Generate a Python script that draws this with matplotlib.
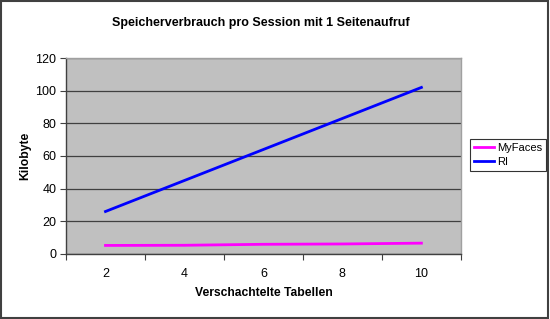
import matplotlib
matplotlib.use("Agg")
import matplotlib.pyplot as plt
from matplotlib.patches import Rectangle

categories = ["2", "4", "6", "8", "10"]
myfaces = [5.2, 5.3, 5.9, 6.1, 6.6]
ri = [26, 45, 64, 83, 102]
yticks = [0, 20, 40, 60, 80, 100, 120]

plt.rcParams['font.family'] = ['Liberation Sans', 'DejaVu Sans']

fig = plt.figure(figsize=(5.5, 3.19), dpi=100)
fig.patch.set_facecolor('white')
fig.patches.append(Rectangle((0.001, 0.002), 0.996, 0.995, transform=fig.transFigure,
                             fill=False, edgecolor='#404040', linewidth=1.5))

ax = fig.add_axes([0.12, 0.204, 0.718, 0.614])
ax.set_facecolor('#C0C0C0')
x = list(range(len(categories)))
ax.plot(x, myfaces, color='#FF00FF', linewidth=2, label='MyFaces')
ax.plot(x, ri, color='#0000FF', linewidth=2, label='RI')

ax.set_xlim(-0.5, len(categories) - 0.5)
ax.set_ylim(0, 120)
ax.set_yticks(yticks)
ax.set_yticklabels([str(v) for v in yticks], fontsize=9)
ax.yaxis.grid(True, color='#404040', linewidth=0.9)
ax.set_axisbelow(True)

ax.set_xticks([i - 0.5 for i in range(len(categories) + 1)])
ax.set_xticklabels([])
ax.set_xticks(x, minor=True)
ax.set_xticklabels(categories, minor=True, fontsize=9)
ax.tick_params(axis='x', which='minor', length=0, pad=10)
ax.tick_params(axis='x', which='major', length=4, direction='out', color='#404040')
ax.tick_params(axis='y', length=4, direction='out', color='#404040', pad=3)

for s in ['top', 'right']:
    ax.spines[s].set_color('#A0A0A0')
    ax.spines[s].set_linewidth(1)
for s in ['left', 'bottom']:
    ax.spines[s].set_color('#404040')
    ax.spines[s].set_linewidth(1)

ax.set_xlabel('Verschachtelte Tabellen', fontsize=8.7, fontweight='bold', labelpad=5)
ax.set_ylabel('Kilobyte', fontsize=8.7, fontweight='bold', labelpad=3)
fig.text(0.475, 0.928, 'Speicherverbrauch pro Session mit 1 Seitenaufruf',
         ha='center', va='center', fontsize=9, fontweight='bold')

leg = fig.legend(loc='upper left', bbox_to_anchor=(470/550, 1 - 139/319), fontsize=8,
                 frameon=True, fancybox=False, edgecolor='black', borderpad=0.35,
                 handlelength=1.8, handletextpad=0.25, labelspacing=0.35, borderaxespad=0)
leg.get_frame().set_linewidth(0.8)

fig.savefig('out.png', dpi=100)
